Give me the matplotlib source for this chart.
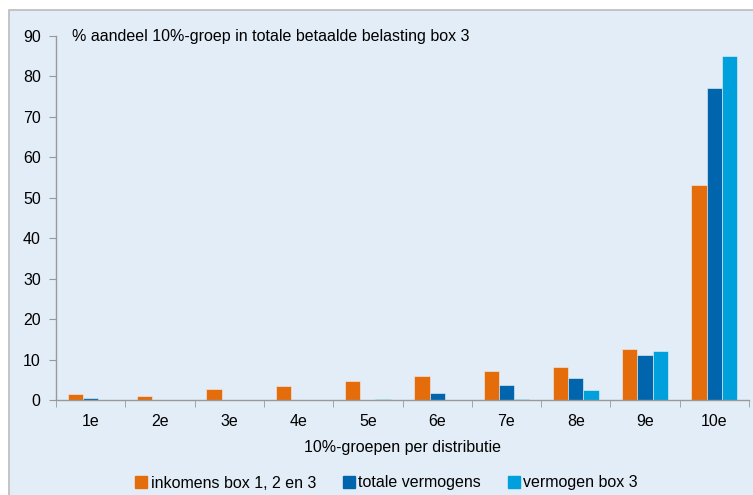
import matplotlib.pyplot as plt
from matplotlib.patches import Rectangle
from matplotlib.lines import Line2D
import numpy as np

groepen = ['1e', '2e', '3e', '4e', '5e', '6e', '7e', '8e', '9e', '10e']
inkomens = [1.5, 1.0, 2.6, 3.4, 4.8, 6.0, 7.1, 8.1, 12.6, 53.2]
totale_vermogens = [0.6, 0.0, 0.0, 0.0, 0.0, 1.8, 3.8, 5.4, 11.2, 77.2]
vermogen_box3 = [0.0, 0.0, 0.0, 0.0, 0.2, 0.0, 0.3, 2.5, 12.2, 85.1]

series = [
    ('inkomens box 1, 2 en 3', inkomens, '#E46C0A'),
    ('totale vermogens', totale_vermogens, '#0065AD'),
    ('vermogen box 3', vermogen_box3, '#00A0DC'),
]

plt.rcParams['font.family'] = ['Liberation Sans', 'DejaVu Sans']
plt.rcParams['font.size'] = 11.5

bg = '#E3EDF7'
fig = plt.figure(figsize=(7.53, 4.95), dpi=100)
fig.patch.set_facecolor('white')
# panel background with grey border on top/left
fig.patches.append(Rectangle((9 / 753, -0.01), 1.0, (495 - 10) / 495 + 0.01, transform=fig.transFigure,
                             facecolor=bg, edgecolor='#BBBBBB', linewidth=1.2, zorder=-10))

ax = fig.add_axes([56 / 753, 95 / 495, 693 / 753, 364 / 495])
ax.patch.set_alpha(0)

x = np.arange(len(groepen))
w = 0.22
for i, (naam, vals, kleur) in enumerate(series):
    ax.bar(x + (i - 1) * w, vals, w, color=kleur, edgecolor='#F2F2F2', linewidth=0.4, label=naam)

ax.set_xlim(-0.5, len(groepen) - 0.5)
ax.set_ylim(0, 90)
ax.set_yticks(range(0, 91, 10))
ax.set_xticks(x)
ax.set_xticklabels(groepen)
ax.set_xticks(np.arange(-0.5, len(groepen)), minor=True)
ax.tick_params(axis='x', which='major', length=0, pad=10)
ax.tick_params(axis='x', which='minor', length=5, color='#999999')
ax.tick_params(axis='y', length=5, color='#999999', pad=6)

for s in ['top', 'right']:
    ax.spines[s].set_visible(False)
for s in ['left', 'bottom']:
    ax.spines[s].set_color('#999999')
    ax.spines[s].set_linewidth(1.0)

ax.text(16 / 693, 1.0, '% aandeel 10%-groep in totale betaalde belasting box 3',
        transform=ax.transAxes, ha='left', va='center')
ax.set_xlabel('10%-groepen per distributie', labelpad=8)

handles = [Line2D([], [], marker='s', linestyle='none', markersize=8,
                  markerfacecolor=k, markeredgecolor=k) for _, _, k in series]
fig.legend(handles, [n for n, _, _ in series], loc='center', ncol=3,
           bbox_to_anchor=(386 / 753, 12 / 495), frameon=False,
           handletextpad=0.15, columnspacing=1.6, handlelength=0.9)

fig.savefig('out.png', dpi=100, facecolor=fig.get_facecolor())
